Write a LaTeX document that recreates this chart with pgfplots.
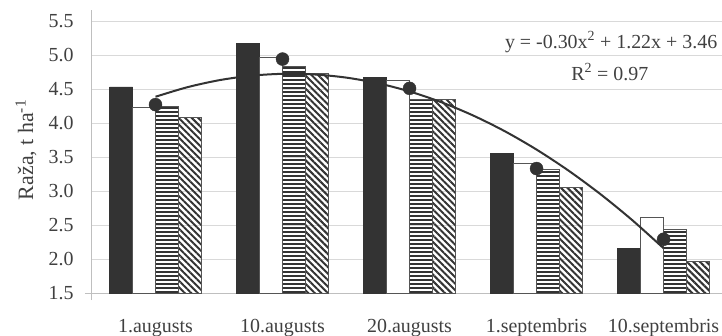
\documentclass[border=0pt]{standalone}
\usepackage{pgfplots}
\pgfplotsset{compat=1.18}
\usepackage{fontspec}
\setmainfont{Liberation Serif}
\usetikzlibrary{patterns.meta}
\definecolor{dk}{HTML}{333333}
\definecolor{ol}{HTML}{555555}
\definecolor{gridc}{HTML}{D9D9D9}
\definecolor{axc}{HTML}{BFBFBF}
\definecolor{txt}{HTML}{404040}
\begin{document}
\begin{tikzpicture}
\useasboundingbox (-92bp,-43bp) rectangle (630bp,293bp);
\begin{axis}[
  at={(0,0)}, anchor=south west,
  width=630bp, height=272bp, scale only axis,
  xmin=0.5, xmax=5.46, ymin=1.5, ymax=5.5,
  axis x line*=bottom, axis y line*=left,
  x axis line style={-, draw=axc, line width=1bp, shorten <=-7bp},
  y axis line style={-, draw=axc, line width=1bp, shorten <=-7bp, shorten >=-11bp},
  major tick length=0,
  ytick={1.5,2.0,2.5,3.0,3.5,4.0,4.5,5.0,5.5},
  /pgf/number format/fixed,
  /pgf/number format/fixed zerofill,
  /pgf/number format/precision=1,
  /pgf/number format/assume math mode=true,
  yticklabel style={font=\fontsize{20}{22}\selectfont, text=txt, xshift=-15bp},
  xtick={1,2,3,4,5},
  xticklabels={1.augusts,10.augusts,20.augusts,1.septembris,10.septembris},
  xticklabel style={font=\fontsize{20}{22}\selectfont, text=txt, anchor=base, yshift=-39bp},
  ymajorgrids, grid style={draw=gridc, line width=1bp},
  ylabel={Raža, t ha\textsuperscript{-1}},
  ylabel style={at={(axis description cs:-0.1048,0.526)}, anchor=center, rotate=0, font=\fontsize{22}{24}\selectfont, text=txt},
  clip=false,
]
\addplot[ybar, bar width=0.181, bar shift=-0.2715, fill=dk, draw=dk] coordinates {(1,4.53) (2,5.17) (3,4.67) (4,3.55) (5,2.16)};
\addplot[ybar, bar width=0.181, bar shift=-0.0905, fill=white, draw=ol, line width=0.9bp] coordinates {(1,4.23) (2,4.97) (3,4.62) (4,3.40) (5,2.61)};
\addplot[ybar, bar width=0.181, bar shift=0.0905, draw=ol, line width=0.9bp, pattern={Lines[angle=0, distance=4bp, line width=2.2bp]}, pattern color=dk] coordinates {(1,4.25) (2,4.83) (3,4.35) (4,3.31) (5,2.43)};
\addplot[ybar, bar width=0.181, bar shift=0.2715, draw=ol, line width=0.9bp, pattern={Lines[angle=-45, distance=4.6bp, line width=2bp]}, pattern color=dk] coordinates {(1,4.08) (2,4.73) (3,4.35) (4,3.05) (5,1.96)};
\addplot[smooth, no marks, draw=dk, line width=2bp] coordinates {
(1,4.386) (1.25,4.526) (1.5,4.629) (1.75,4.695) (2,4.723) (2.25,4.714) (2.5,4.668) (2.75,4.585) (3,4.464) (3.25,4.306) (3.5,4.111) (3.75,3.879) (4,3.609) (4.25,3.302) (4.5,2.958) (4.75,2.577) (5,2.158)};
\addplot[only marks, mark=*, mark size=6.5bp, mark options={fill=dk, draw=dk}] coordinates {(1,4.27) (2,4.94) (3,4.51) (4,3.33) (5,2.29)};
\node[anchor=base, font=\fontsize{20}{22}\selectfont, text=txt] at (axis description cs:0.824,0.90) {y = -0.30x\textsuperscript{2} + 1.22x + 3.46};
\node[anchor=base, font=\fontsize{20}{22}\selectfont, text=txt] at (axis description cs:0.822,0.783) {R\textsuperscript{2} = 0.97};
\end{axis}
\end{tikzpicture}
\end{document}
